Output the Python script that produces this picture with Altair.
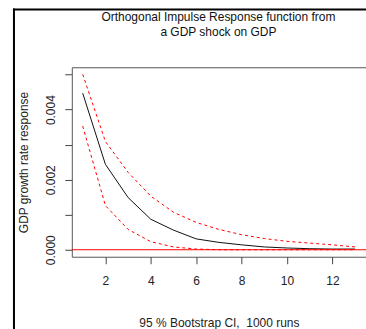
import altair as alt
import pandas as pd

horizon = list(range(1, 14))
irf = [0.00447, 0.00244, 0.00149, 0.00087, 0.00056, 0.00031, 0.00021,
       0.00014, 0.00008, 0.00005, 0.00003, 0.00002, 0.00002]
upper = [0.00501, 0.00309, 0.00221, 0.00153, 0.00107, 0.00078, 0.00058,
         0.00043, 0.00032, 0.00024, 0.00019, 0.00014, 0.00008]
lower = [0.00353, 0.00126, 0.00058, 0.00023, 0.00008, 0.00002, 0.0,
         0.0, 0.0, 0.0, 0.0, 0.0, 0.0]

title_lines = ["Orthogonal Impulse Response function from", "a GDP shock on GDP"]
x_title = "95 % Bootstrap CI,\u00a0 1000 runs"
y_title = "GDP growth rate response"
x_ticks = [2, 4, 6, 8, 10, 12]
y_ticks = [0.0, 0.001, 0.002, 0.003, 0.004, 0.005]

FONT = "Liberation Sans"

df = pd.DataFrame({"h": horizon, "irf": irf, "upper": upper, "lower": lower})

xscale = alt.Scale(domain=[0.52, 13.48], nice=False, zero=False)
yscale = alt.Scale(domain=[-0.0002, 0.00521], nice=False, zero=False)

xaxis = alt.Axis(values=x_ticks, format="d", title=x_title, grid=False, domain=False,
                 tickSize=7, tickColor="#444", labelPadding=12, labelFontSize=12,
                 labelFont=FONT, labelColor="#222", titleFont=FONT, titleFontSize=12,
                 titleFontWeight="normal", titleColor="#222", titlePadding=31,
                 labelFlush=False)
yaxis = alt.Axis(values=y_ticks, format=".3f", title=y_title, grid=False, domain=False,
                 tickSize=7, tickColor="#444", labelPadding=7, labelFontSize=12,
                 labelFont=FONT, labelColor="#222", labelAngle=-90, labelAlign="center",
                 labelBaseline="bottom", labelOverlap=False, labelFlush=False,
                 labelExpr="round(datum.value*1000) % 2 == 0 ? datum.label : ''",
                 titleFont=FONT, titleFontSize=12, titleFontWeight="normal",
                 titleColor="#222", titlePadding=14)

base = alt.Chart(df)

mid = base.mark_line(color="#111", strokeWidth=1).encode(
    x=alt.X("h:Q", scale=xscale, axis=xaxis),
    y=alt.Y("irf:Q", scale=yscale, axis=yaxis),
)
up = base.mark_line(color="#ff0000", strokeWidth=1, strokeDash=[3, 3]).encode(
    x=alt.X("h:Q", scale=xscale, axis=xaxis), y=alt.Y("upper:Q", scale=yscale, axis=yaxis))
lo = base.mark_line(color="#ff0000", strokeWidth=1, strokeDash=[3, 3]).encode(
    x=alt.X("h:Q", scale=xscale, axis=xaxis), y=alt.Y("lower:Q", scale=yscale, axis=yaxis))

zero = alt.Chart(pd.DataFrame({"z": [0.0]})).mark_rule(color="#ff0000", strokeWidth=1).encode(
    y=alt.Y("z:Q", scale=yscale, axis=yaxis), x=alt.value(0), x2=alt.value(300))

title1 = alt.Chart(pd.DataFrame({"t": [title_lines[0]]})).mark_text(
    font=FONT, fontSize=12, color="#111", align="center", baseline="middle").encode(
    text="t:N", x=alt.value(147), y=alt.value(-50))
title2 = alt.Chart(pd.DataFrame({"t": [title_lines[1]]})).mark_text(
    font=FONT, fontSize=12, color="#111", align="center", baseline="middle").encode(
    text="t:N", x=alt.value(147), y=alt.value(-35))

frame_v = alt.Chart(pd.DataFrame({"a": [0]})).mark_rule(color="#000", strokeWidth=2).encode(
    x=alt.value(-58), y=alt.value(-59), y2=alt.value(270))
frame_h = alt.Chart(pd.DataFrame({"a": [0]})).mark_rule(color="#000", strokeWidth=2).encode(
    x=alt.value(-59), x2=alt.value(300), y=alt.value(-58))

chart = alt.layer(mid, up, lo, zero, title1, title2, frame_v, frame_h).properties(
    width=295, height=190,
    autosize=alt.AutoSizeParams(type="none"),
    padding={"left": 72, "top": 67, "right": 0, "bottom": 72},
    background="white",
).configure_view(stroke="#555", strokeWidth=1)

chart.save("out.html", embed_options={"renderer": "svg", "actions": False})
